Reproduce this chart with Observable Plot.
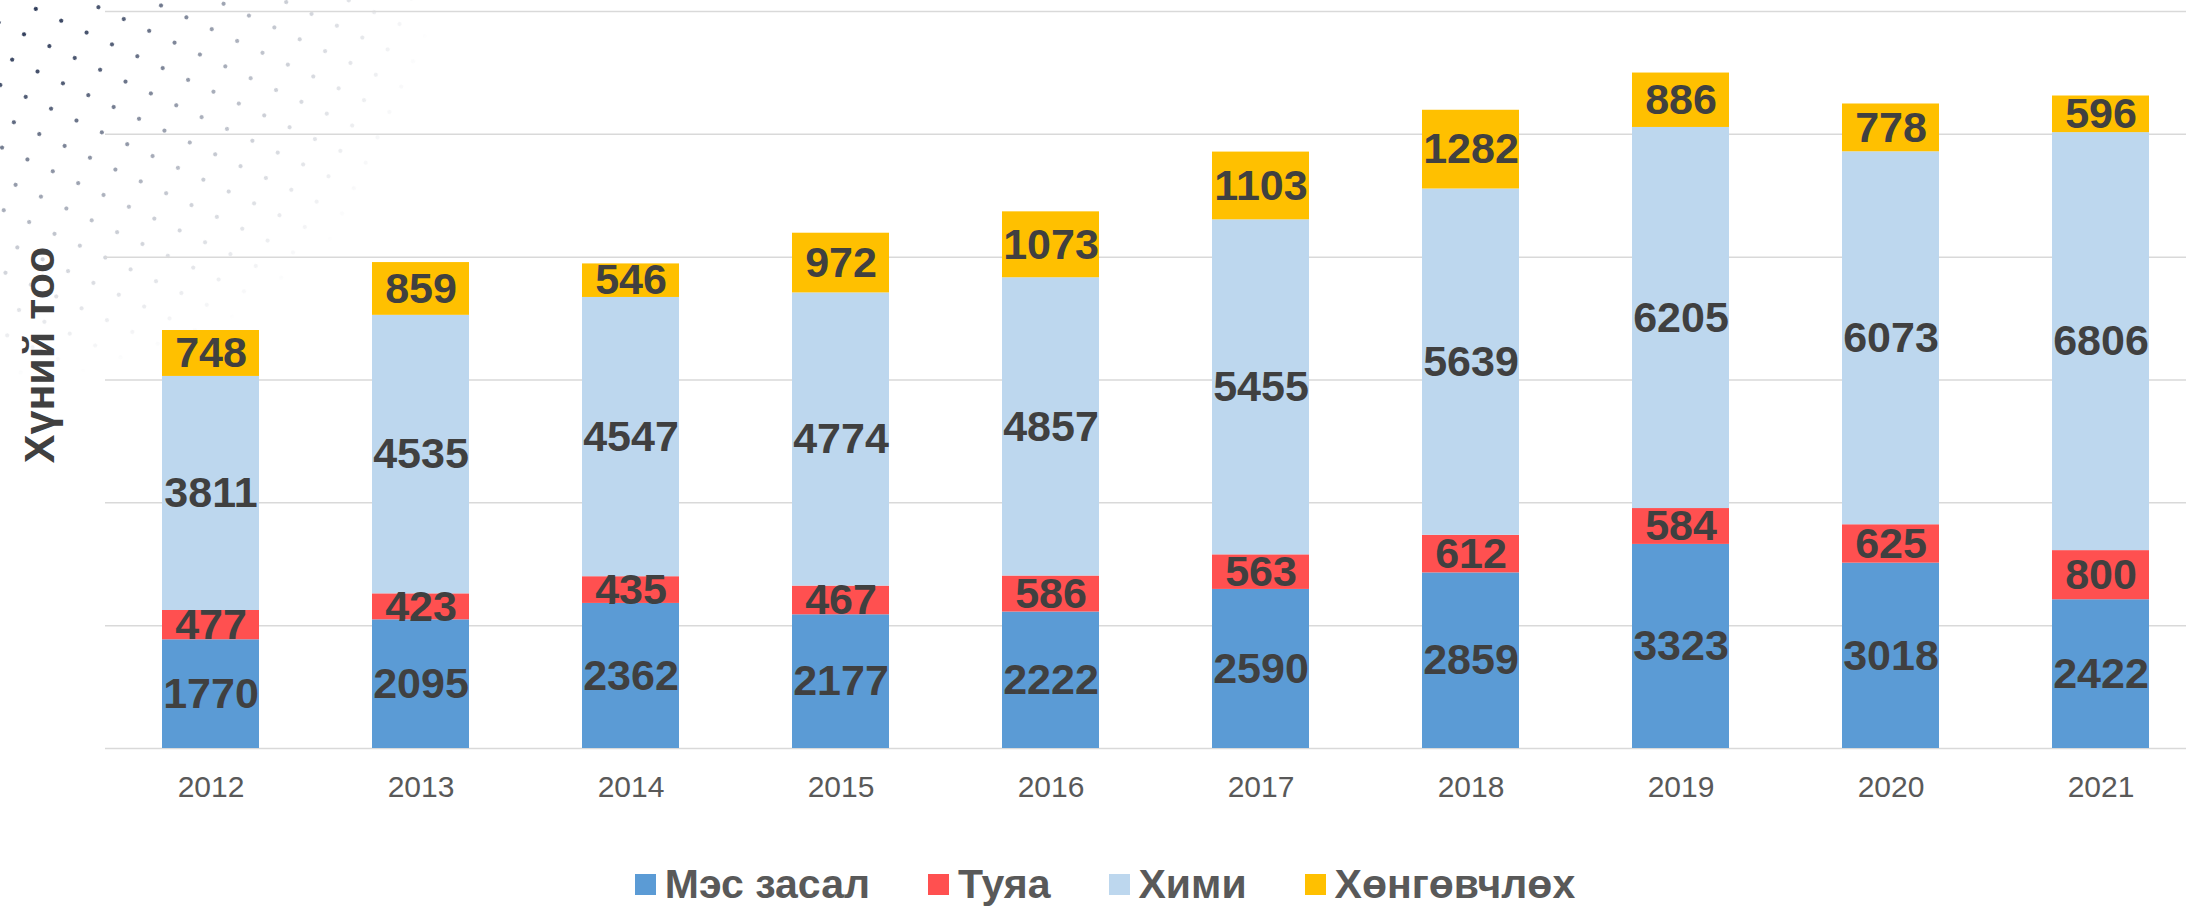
<!DOCTYPE html>
<html>
<head>
<meta charset="utf-8">
<script src="https://cdn.jsdelivr.net/npm/d3@7"></script>
<script src="https://cdn.jsdelivr.net/npm/@observablehq/plot@0.6"></script>
<style>
  html, body { margin: 0; padding: 0; background: #ffffff; overflow: hidden; width: 2186px; height: 909px; }
  #wrap { position: relative; width: 2186px; height: 909px; overflow: hidden; }
  #dotsMask {
    position: absolute; left: 0; top: 0; width: 460px; height: 420px; overflow: hidden; z-index: 0;
    -webkit-mask-image: radial-gradient(ellipse 430px 380px at 0 0, rgba(0,0,0,1) 0%, rgba(0,0,0,0.75) 30%, rgba(0,0,0,0.25) 65%, rgba(0,0,0,0) 100%);
    mask-image: radial-gradient(ellipse 430px 380px at 0 0, rgba(0,0,0,1) 0%, rgba(0,0,0,0.75) 30%, rgba(0,0,0,0.25) 65%, rgba(0,0,0,0) 100%);
  }
  #dots {
    position: absolute; left: -200px; top: -200px; width: 900px; height: 900px;
    background-image: radial-gradient(circle, #1f2d4d 0 1.7px, transparent 2.3px);
    background-size: 28px 28px;
    transform: rotate(25deg);
  }
  #chart { position: relative; z-index: 1; width: 2205px; }
  #chart svg { max-width: none !important; }
  #legend {
    position: relative; z-index: 1;
    width: 2210px; height: 49px; padding-top: 20px;
    display: flex; justify-content: center; align-items: center;
    font-family: "Liberation Sans", Arial, sans-serif; font-weight: bold;
    font-size: 41px; color: #595959;
  }
  .item { display: flex; align-items: center; margin: 0 29px; }
  .sw { width: 21px; height: 21px; margin-right: 9px; }
</style>
</head>
<body>
<div id="wrap">
  <div id="dotsMask"><div id="dots"></div></div>
  <div id="chart"></div>
  <div id="legend"></div>
</div>
<script>
const years = ["2012","2013","2014","2015","2016","2017","2018","2019","2020","2021"];
const seriesNames = ["Мэс засал", "Туяа", "Хими", "Хөнгөвчлөх"];
const seriesColors = ["#5B9BD5", "#FF5050", "#BDD7EE", "#FFC000"];
const mesZasal = [1770, 2095, 2362, 2177, 2222, 2590, 2859, 3323, 3018, 2422];
const tuyaa    = [477, 423, 435, 467, 586, 563, 612, 584, 625, 800];
const khimi    = [3811, 4535, 4547, 4774, 4857, 5455, 5639, 6205, 6073, 6806];
const khungu   = [748, 859, 546, 972, 1073, 1103, 1282, 886, 778, 596];
const yTicks = [0, 2000, 4000, 6000, 8000, 10000, 12000];
const yLabel = "Хүний тоо";

const seriesValues = [mesZasal, tuyaa, khimi, khungu];
const data = [];
years.forEach((yr, i) => {
  seriesNames.forEach((s, j) => {
    data.push({year: yr, series: s, value: seriesValues[j][i]});
  });
});

const stackOpts = {x: "year", y: "value", z: "series", order: seriesNames};

const chart = Plot.plot({
  width: 2205,
  height: 840,
  marginLeft: 105,
  marginRight: 0,
  marginTop: 11,
  marginBottom: 92,
  style: {fontFamily: "'Liberation Sans', Arial, sans-serif", background: "transparent", overflow: "visible", maxWidth: "none"},
  x: {domain: years, paddingInner: 0.54, paddingOuter: 0.27, label: null},
  y: {domain: [0, 12000], axis: null},
  color: {domain: seriesNames, range: seriesColors},
  marks: [
    Plot.ruleY(yTicks, {stroke: "#d9d9d9", strokeWidth: 1.5}),
    Plot.barY(data, Plot.stackY({...stackOpts, fill: "series"})),
    Plot.text(data, Plot.stackY({...stackOpts, text: d => String(d.value),
      fill: "#404040", fontSize: 43, fontWeight: "bold",
      fontFamily: "'Liberation Sans', Arial, sans-serif"})),
    Plot.axisX({tickSize: 0, tickPadding: 27, fontSize: 30, color: "#595959", label: null}),
    Plot.text([yLabel], {frameAnchor: "left", textAnchor: "middle", lineAnchor: "middle",
      rotate: -90, dx: -65, dy: -25,
      fontSize: 43, fontWeight: "bold", fill: "#404040",
      fontFamily: "'Liberation Sans', Arial, sans-serif"})
  ]
});
document.getElementById("chart").appendChild(chart);

const legend = document.getElementById("legend");
seriesNames.forEach((s, j) => {
  const it = document.createElement("div");
  it.className = "item";
  const sw = document.createElement("div");
  sw.className = "sw";
  sw.style.background = seriesColors[j];
  const t = document.createElement("span");
  t.textContent = s;
  it.appendChild(sw);
  it.appendChild(t);
  legend.appendChild(it);
});
</script>
</body>
</html>
